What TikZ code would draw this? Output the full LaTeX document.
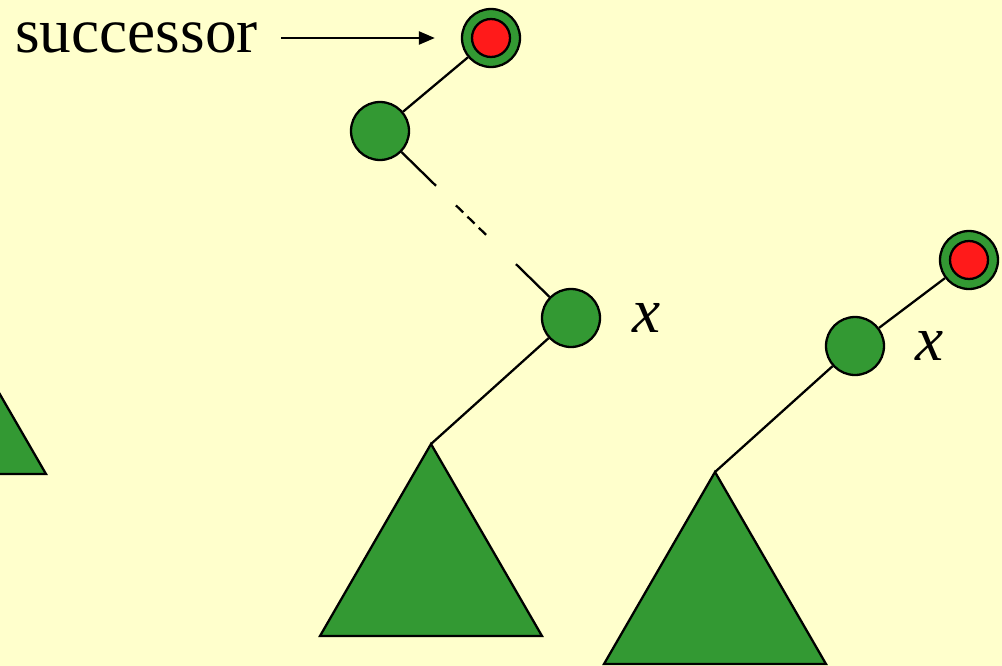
\documentclass[tikz,border=0pt]{standalone}
\usepackage{fontspec}
\setmainfont{Liberation Serif}
\usetikzlibrary{positioning, arrows.meta, calc}

\definecolor{bgyellow}{RGB}{255,255,204}
\definecolor{treegreen}{RGB}{51,153,51}
\definecolor{succred}{RGB}{255,26,26}

\begin{document}
\begin{tikzpicture}[
    x=0.02cm, y=-0.02cm,
    vert/.style={circle, draw=black, fill=treegreen, line width=1.3pt,
                 minimum size=1.16cm, inner sep=0pt},
    succ/.style={vert, path picture={
        \draw[fill=succred, line width=1.3pt]
            (path picture bounding box.center) circle (0.38cm);}},
    edge/.style={line width=1.3pt},
    subtree/.style={draw=black, fill=treegreen, line width=1.3pt, line join=miter},
    lbl/.style={font=\fontsize{36}{40}\selectfont, inner sep=0pt},
    parr/.style={-{Triangle[length=0.32cm, width=0.26cm]}, line width=1.3pt},
]

% ===== CANVAS =====
\useasboundingbox (0,0) rectangle (1002,666);
\fill[bgyellow] (0,0) rectangle (1002,666);
\clip (0,0) rectangle (1002,666);

% ===== LEFT TREE =====
\node[succ] (R1) at (491, 38) {};
\node[vert] (A) at (380, 131) {};
\node[vert] (B) at (571, 318) {};
\coordinate (T1) at (431, 444);
\node[lbl, font=\fontsize{36}{40}\selectfont\itshape] (xB) at (647, 318) {x};

\draw[edge] (A) -- (R1);
\draw[edge] (A) -- ($(A)!0.293!(B)$);
\draw[edge, dash pattern=on 0.2cm off 0.12cm] ($(A)!0.398!(B)$) -- ($(A)!0.555!(B)$);
\draw[edge] ($(A)!0.712!(B)$) -- (B);
\draw[edge] (B) -- (T1);
\draw[subtree] (T1) -- ++(111,192) -- ++(-222,0) -- cycle;

% ===== SUCCESSOR POINTER =====
\node[lbl, anchor=base west] (word) at (15, 52) {successor};
\draw[parr, shorten <=0.46cm, shorten >=0.52cm] (word.east |- R1.west) -- (R1.west);

% ===== PARTIAL SUBTREE AT THE EDGE =====
\coordinate (T0) at (-65, 282);
\draw[subtree] (T0) -- ++(111,192) -- ++(-222,0) -- cycle;

% ===== RIGHT TREE =====
\node[succ] (R2) at (969, 260) {};
\node[vert] (C) at (855, 346) {};
\coordinate (T2) at (715, 472);
\node[lbl, font=\fontsize{36}{40}\selectfont\itshape] (xC) at (930, 346) {x};

\draw[edge] (C) -- (R2);
\draw[edge] (C) -- (T2);
\draw[subtree] (T2) -- ++(111,192) -- ++(-222,0) -- cycle;

\end{tikzpicture}
\end{document}
